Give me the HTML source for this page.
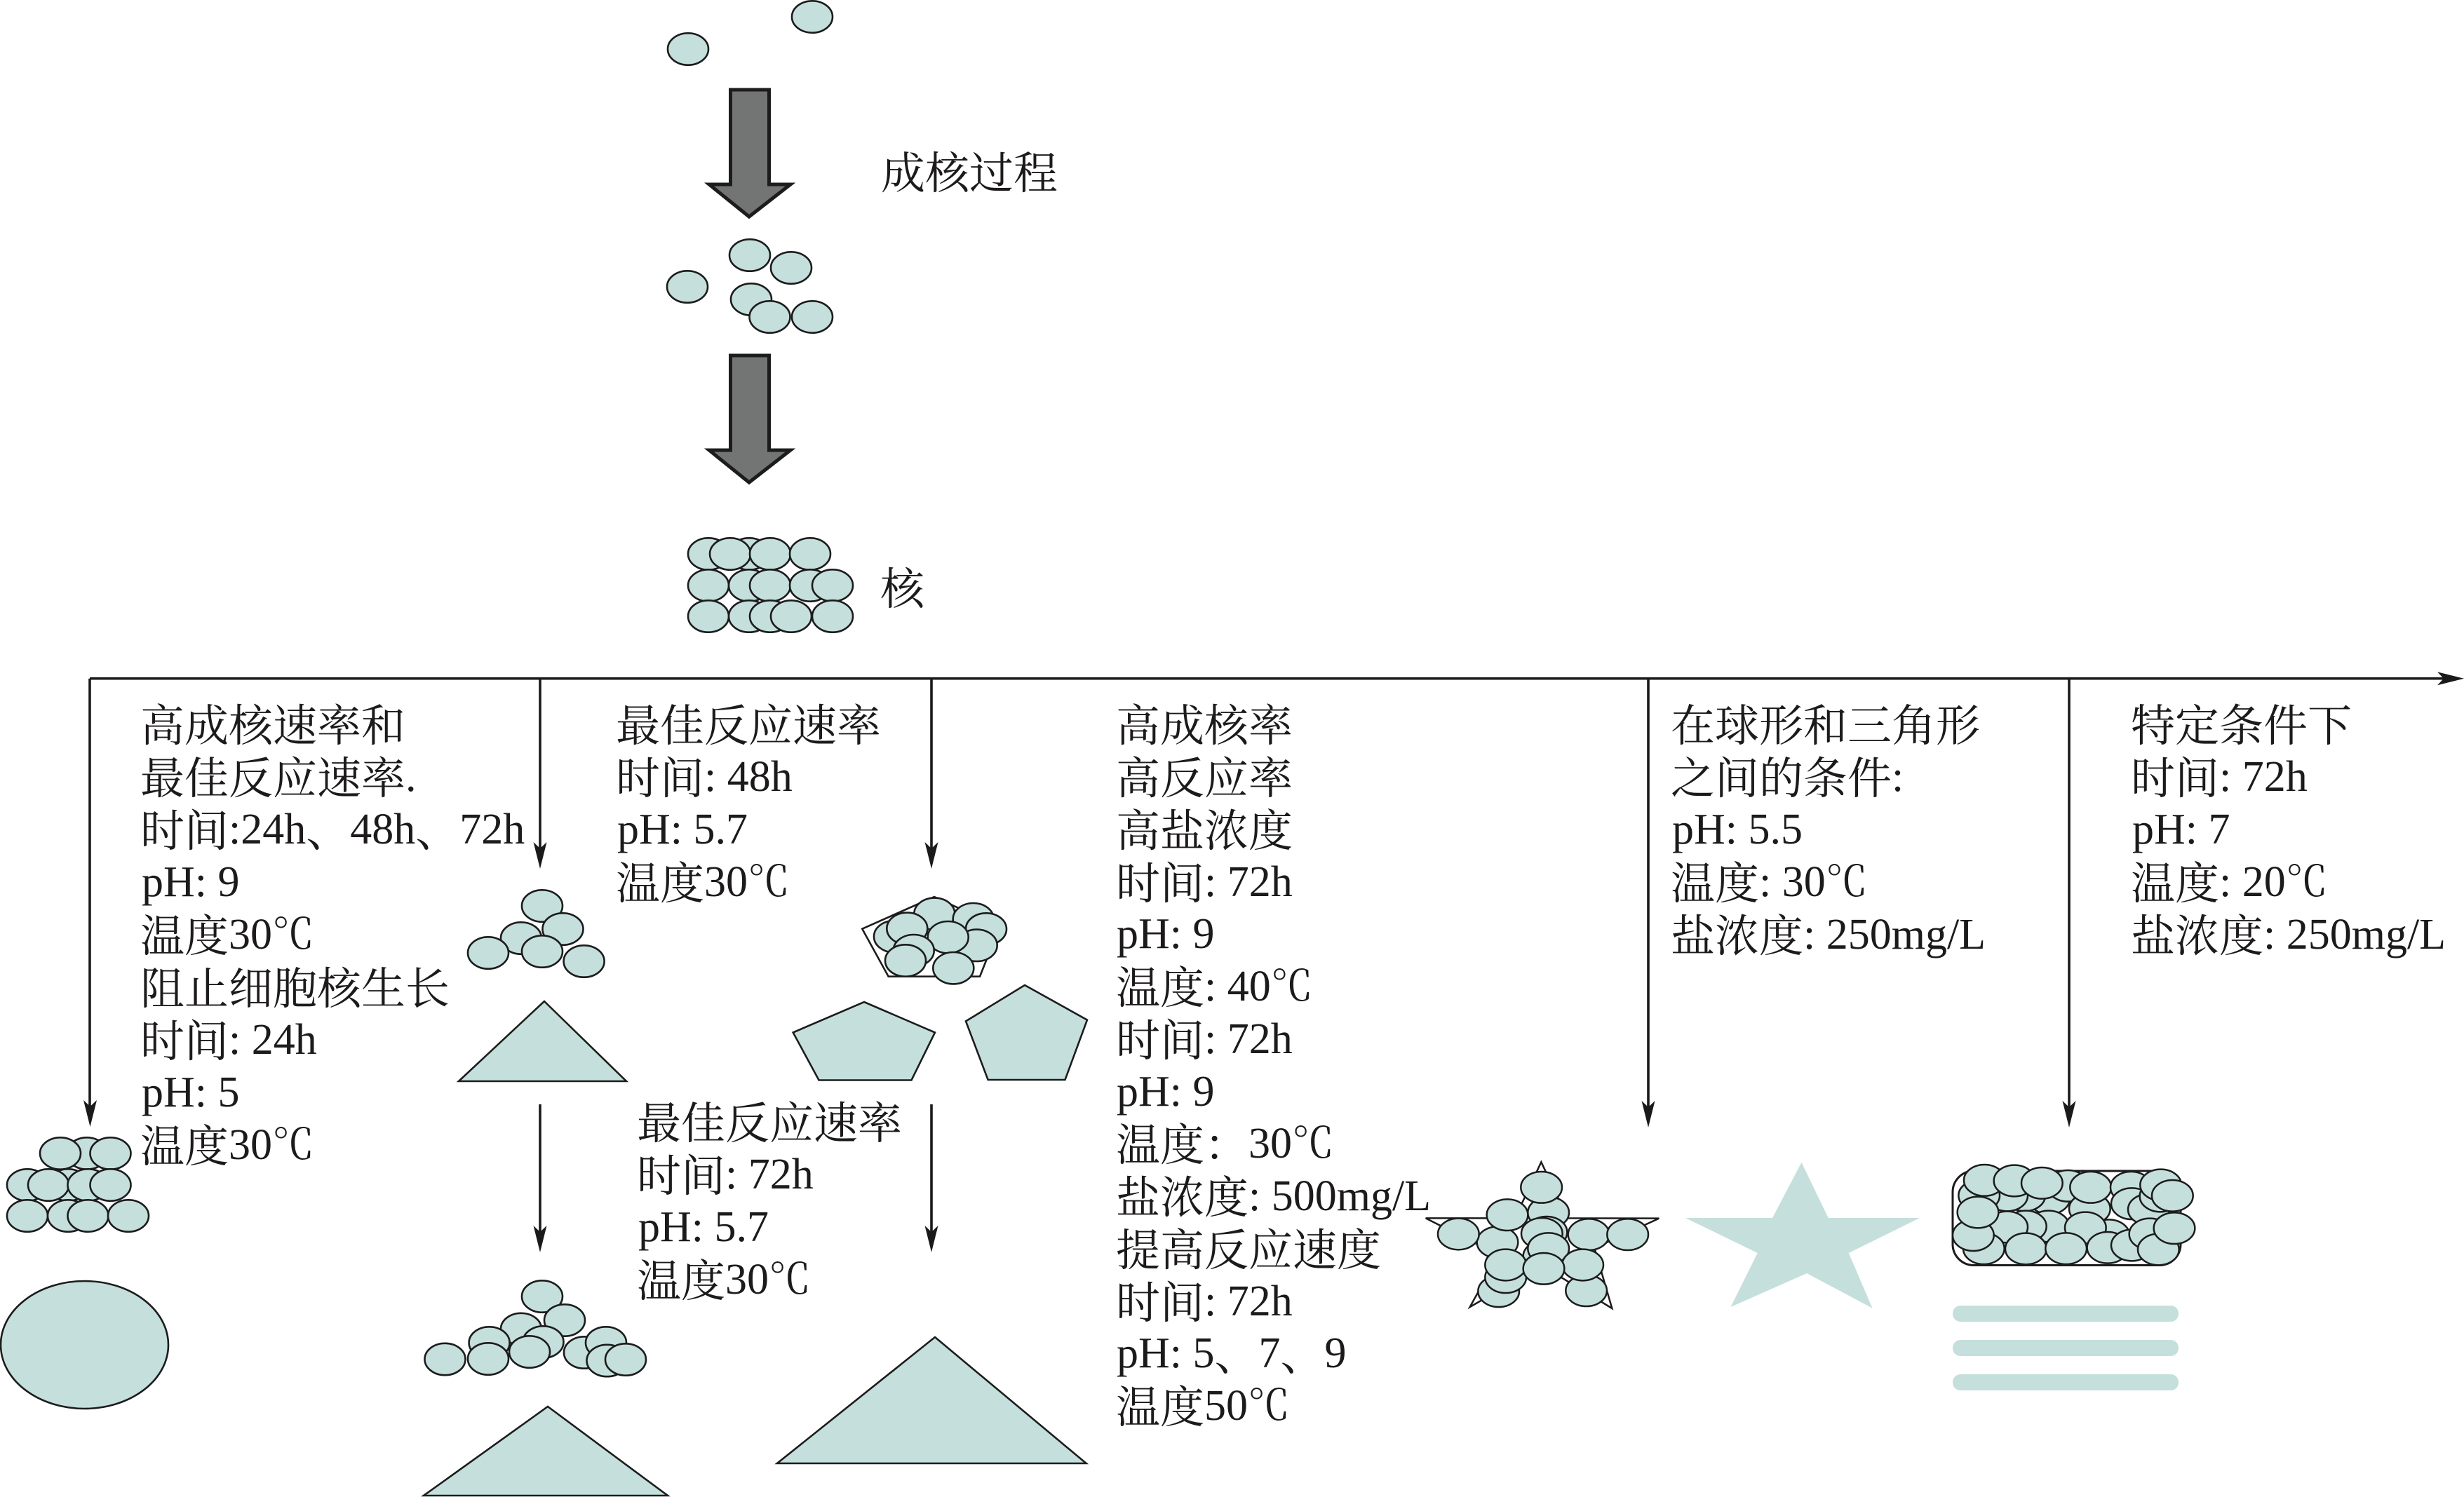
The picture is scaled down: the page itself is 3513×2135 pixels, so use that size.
<!DOCTYPE html>
<html lang="zh"><head><meta charset="utf-8"><title>成核过程</title>
<style>
html,body{margin:0;padding:0;background:#fff;width:3513px;height:2135px;overflow:hidden}
svg{display:block}
text{font-family:"Liberation Serif","Noto Serif CJK SC",serif;font-size:62px;fill:#1c1a1a;white-space:pre}
.c{font-family:"Noto Serif CJK SC",serif;font-size:63px;baseline-shift:-4px}
.d{font-family:"Noto Serif CJK SC",serif;font-size:60px}
.g use{fill:#c5e0dc;stroke:#1c1c1c;stroke-width:2.6}
.l{stroke:#1a1a1a;stroke-width:3.6;fill:none}
.h{fill:#1a1a1a}
.p{fill:#c5e0dc;stroke:#1c1c1c;stroke-width:2.6}
.t use{fill:#c5e0dc;stroke:#1c1c1c;stroke-width:7.5}
</style></head><body>
<svg width="3513" height="2135" viewBox="0 0 3513 2135" xmlns="http://www.w3.org/2000/svg">
<defs>
<ellipse id="e" rx="29" ry="22.7"/>
<ellipse id="z" rx="88" ry="67"/>
<polygon id="a" points="0,0 -9.5,-38 0,-29 9.5,-38"/>
</defs>

<!-- grey arrows -->
<polygon points="1041.5,128 1096.5,128 1096.5,263 1127,263 1068,309 1011,263 1041.5,263" fill="#737575" stroke="#1c1c1c" stroke-width="5"/>
<polygon points="1041.5,507 1096.5,507 1096.5,642 1127,642 1068,688 1011,642 1041.5,642" fill="#737575" stroke="#1c1c1c" stroke-width="5"/>

<g class="g">
<use href="#e" x="1158" y="24"/><use href="#e" x="981" y="70"/>
<use href="#e" x="1069" y="364"/><use href="#e" x="1128" y="382"/><use href="#e" x="980" y="409"/>
<use href="#e" x="1071" y="427"/><use href="#e" x="1097.5" y="452"/><use href="#e" x="1158" y="452"/>
<!-- nucleus -->
<use href="#e" x="1010" y="790"/><use href="#e" x="1068" y="790"/><use href="#e" x="1041" y="790"/><use href="#e" x="1098" y="790"/><use href="#e" x="1155" y="790"/>
<use href="#e" x="1010" y="835"/><use href="#e" x="1068" y="835"/><use href="#e" x="1098" y="835"/><use href="#e" x="1155" y="835"/><use href="#e" x="1187" y="835"/>
<use href="#e" x="1010" y="879"/><use href="#e" x="1068" y="879"/><use href="#e" x="1098" y="879"/><use href="#e" x="1128" y="879"/><use href="#e" x="1187" y="879"/>
<!-- left stack -->
<use href="#e" x="124" y="1645"/><use href="#e" x="86" y="1645"/><use href="#e" x="157.5" y="1645"/>
<use href="#e" x="39" y="1690"/><use href="#e" x="97" y="1690"/><use href="#e" x="69" y="1690"/><use href="#e" x="125.5" y="1690"/><use href="#e" x="157.5" y="1690"/>
<use href="#e" x="39" y="1734"/><use href="#e" x="97" y="1734"/><use href="#e" x="125.5" y="1734"/><use href="#e" x="183" y="1734"/>
<!-- group A -->
<use href="#e" x="773" y="1292"/><use href="#e" x="743" y="1338"/><use href="#e" x="802.5" y="1325"/><use href="#e" x="696" y="1359"/><use href="#e" x="773" y="1357"/><use href="#e" x="832.6" y="1371"/>
<!-- group B -->
<use href="#e" x="773" y="1849"/><use href="#e" x="805" y="1883"/><use href="#e" x="743" y="1895.5"/><use href="#e" x="774.5" y="1914"/><use href="#e" x="697.6" y="1915"/><use href="#e" x="696" y="1938"/><use href="#e" x="634.5" y="1938.5"/><use href="#e" x="755" y="1928"/><use href="#e" x="833" y="1929"/><use href="#e" x="864" y="1915"/><use href="#e" x="865.5" y="1940.5"/><use href="#e" x="892" y="1939"/>
</g>

<ellipse cx="120.5" cy="1918" rx="119.5" ry="91" class="p"/>
<polygon class="p" points="776,1428 893,1542 654,1542"/>
<polygon class="p" points="781,2006 952,2133 604,2133"/>
<polygon class="p" points="1333,1907 1548.6,2087 1108,2087"/>
<polygon class="p" points="1232,1429 1333,1472.5 1299.5,1540.5 1167.5,1540.5 1130.7,1472.5"/>
<polygon class="p" points="1461,1405 1550,1454.6 1518.5,1540 1408.6,1540 1377,1456.4"/>

<!-- pentagon group -->
<polygon points="1229.3,1324.7 1332,1279 1425,1322 1397,1392.7 1266.7,1392.7" fill="#fff" stroke="#1c1c1c" stroke-width="2.6"/>
<g class="g">
<use href="#e" x="1332.3" y="1303.3"/><use href="#e" x="1387.7" y="1310.7"/><use href="#e" x="1406" y="1325"/><use href="#e" x="1275" y="1335.7"/><use href="#e" x="1392.7" y="1348.3"/><use href="#e" x="1293.3" y="1324.3"/><use href="#e" x="1351.7" y="1336.7"/><use href="#e" x="1302.7" y="1355.7"/><use href="#e" x="1291" y="1370"/><use href="#e" x="1359.3" y="1380.7"/>
</g>

<!-- solid star -->
<polygon fill="#c5e0dc" points="2568.5,1657.7 2606.7,1737 2737,1737 2635.8,1787 2669.5,1865.7 2576,1816 2467.5,1864 2505.7,1787 2403,1737 2527,1737"/>

<!-- ball star -->
<g class="t" transform="translate(2020,1650) scale(.33333)">
<polygon points="532,22 645,262 1036,263 760,390 835,648 535,465 227,642 350,420 38,262 420,262" fill="#fff" stroke="#1c1c1c" stroke-width="7.5"/>
<use href="#z" x="350" y="575"/><use href="#z" x="380" y="515"/><use href="#z" x="725" y="572"/><use href="#z" x="563" y="238"/><use href="#z" x="533" y="130"/><use href="#z" x="345" y="365"/><use href="#z" x="387" y="248"/><use href="#z" x="178" y="330"/><use href="#z" x="555" y="322"/><use href="#z" x="535" y="328"/><use href="#z" x="735" y="332"/><use href="#z" x="902" y="332"/><use href="#z" x="543" y="425"/><use href="#z" x="563" y="392"/><use href="#z" x="380" y="462"/><use href="#z" x="710" y="462"/><use href="#z" x="543" y="478"/>
</g>

<!-- rounded rect with balls -->
<rect x="2784" y="1670" width="325" height="134.5" rx="30" ry="30" fill="#fff" stroke="#1c1c1c" stroke-width="3"/>
<g class="t" transform="translate(2770,1650) scale(.33333)">
<use href="#z" x="455" y="178"/><use href="#z" x="350" y="165"/><use href="#z" x="275" y="165"/><use href="#z" x="155" y="165"/><use href="#z" x="535" y="124"/><use href="#z" x="628" y="222"/><use href="#z" x="178" y="100"/><use href="#z" x="306" y="102"/><use href="#z" x="424" y="112"/><use href="#z" x="632" y="130"/><use href="#z" x="805" y="130"/><use href="#z" x="710" y="335"/><use href="#z" x="452" y="297"/><use href="#z" x="355" y="297"/><use href="#z" x="275" y="300"/><use href="#z" x="610" y="303"/><use href="#z" x="175" y="392"/><use href="#z" x="130" y="335"/><use href="#z" x="150" y="237"/><use href="#z" x="355" y="393"/><use href="#z" x="527" y="392"/><use href="#z" x="705" y="388"/><use href="#z" x="808" y="200"/><use href="#z" x="880" y="225"/><use href="#z" x="930" y="168"/><use href="#z" x="932" y="120"/><use href="#z" x="982" y="166"/><use href="#z" x="808" y="378"/><use href="#z" x="885" y="330"/><use href="#z" x="922" y="396"/><use href="#z" x="990" y="305"/>
</g>

<!-- bars -->
<rect x="2784" y="1862" width="322" height="23" rx="11" fill="#c5e0dc"/>
<rect x="2784" y="1911" width="322" height="23" rx="11" fill="#c5e0dc"/>
<rect x="2784" y="1960" width="322" height="23" rx="11" fill="#c5e0dc"/>

<!-- connectors -->
<path class="l" d="M128 967.7H3484M128 967.7V1585M770 967.7V1220M1328 967.7V1220M2350 967.7V1590M2950 967.7V1590M770 1575V1765M1328 1575V1765"/>
<g class="h">
<use href="#a" x="128.5" y="1607"/><use href="#a" x="770" y="1239"/><use href="#a" x="1328" y="1239"/><use href="#a" x="2350" y="1608"/><use href="#a" x="2950" y="1608"/><use href="#a" x="770" y="1786"/><use href="#a" x="1328" y="1786"/>
<use href="#a" transform="translate(3513,967.7) rotate(-90)"/>
</g>

<!-- labels -->
<text x="1256" y="265"><tspan class="c">成核过程</tspan></text>
<text x="1255" y="858"><tspan class="c">核</tspan></text>

<text x="200" y="1053"><tspan class="c">高成核速率和</tspan></text>
<text x="200" y="1128"><tspan class="c">最佳反应速率</tspan>.</text>
<text x="200" y="1203"><tspan class="c">时间</tspan>:24h<tspan class="c">、</tspan>48h<tspan class="c">、</tspan>72h</text>
<text x="202" y="1278">pH: 9</text>
<text x="200" y="1353"><tspan class="c">温度</tspan>30<tspan class="d">℃</tspan></text>
<text x="200" y="1428"><tspan class="c">阻止细胞核生长</tspan></text>
<text x="200" y="1503"><tspan class="c">时间</tspan>: 24h</text>
<text x="202" y="1578">pH: 5</text>
<text x="200" y="1653"><tspan class="c">温度</tspan>30<tspan class="d">℃</tspan></text>

<text x="878" y="1053"><tspan class="c">最佳反应速率</tspan></text>
<text x="878" y="1128"><tspan class="c">时间</tspan>: 48h</text>
<text x="880" y="1203">pH: 5.7</text>
<text x="878" y="1278"><tspan class="c">温度</tspan>30<tspan class="d">℃</tspan></text>

<text x="908" y="1620"><tspan class="c">最佳反应速率</tspan></text>
<text x="908" y="1695"><tspan class="c">时间</tspan>: 72h</text>
<text x="910" y="1770">pH: 5.7</text>
<text x="908" y="1845"><tspan class="c">温度</tspan>30<tspan class="d">℃</tspan></text>

<text x="1591" y="1053"><tspan class="c">高成核率</tspan></text>
<text x="1591" y="1128"><tspan class="c">高反应率</tspan></text>
<text x="1591" y="1203"><tspan class="c">高盐浓度</tspan></text>
<text x="1591" y="1278"><tspan class="c">时间</tspan>: 72h</text>
<text x="1592" y="1352">pH: 9</text>
<text x="1591" y="1427"><tspan class="c">温度</tspan>: 40<tspan class="d">℃</tspan></text>
<text x="1591" y="1502"><tspan class="c">时间</tspan>: 72h</text>
<text x="1592" y="1577">pH: 9</text>
<text x="1591" y="1651"><tspan class="c">温度：</tspan>30<tspan class="d">℃</tspan></text>
<text x="1591" y="1726"><tspan class="c">盐浓度</tspan>: 500mg/L</text>
<text x="1591" y="1801"><tspan class="c">提高反应速度</tspan></text>
<text x="1591" y="1876"><tspan class="c">时间</tspan>: 72h</text>
<text x="1592" y="1950">pH: 5<tspan class="c">、</tspan>7<tspan class="c">、</tspan>9</text>
<text x="1591" y="2025"><tspan class="c">温度</tspan>50<tspan class="d">℃</tspan></text>

<text x="2382" y="1053"><tspan class="c">在球形和三角形</tspan></text>
<text x="2382" y="1128"><tspan class="c">之间的条件</tspan>:</text>
<text x="2384" y="1203">pH: 5.5</text>
<text x="2382" y="1278"><tspan class="c">温度</tspan>: 30<tspan class="d">℃</tspan></text>
<text x="2382" y="1353"><tspan class="c">盐浓度</tspan>: 250mg/L</text>

<text x="3038" y="1053"><tspan class="c">特定条件下</tspan></text>
<text x="3038" y="1128"><tspan class="c">时间</tspan>: 72h</text>
<text x="3040" y="1203">pH: 7</text>
<text x="3038" y="1278"><tspan class="c">温度</tspan>: 20<tspan class="d">℃</tspan></text>
<text x="3038" y="1353"><tspan class="c">盐浓度</tspan>: 250mg/L</text>
</svg>
</body></html>
